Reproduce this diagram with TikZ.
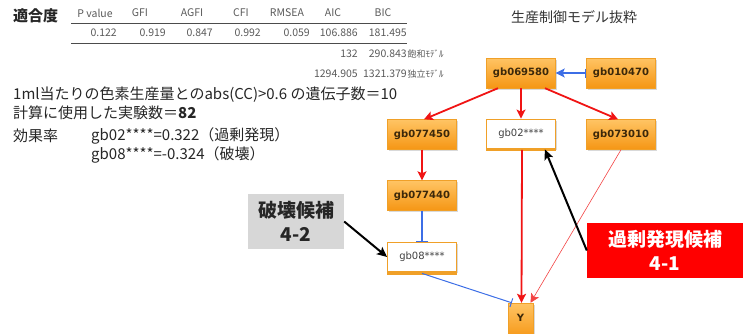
\documentclass[tikz,border=0pt]{standalone}
\usepackage{fontspec}
\setmainfont{Noto Sans CJK JP}
\newfontfamily\dejavu{DejaVu Sans}
\usetikzlibrary{arrows.meta,shadows}
\definecolor{orgtop}{RGB}{255,196,100}
\definecolor{orgbot}{RGB}{245,150,20}
\definecolor{orgline}{RGB}{240,160,40}
\definecolor{nodetxt}{RGB}{60,40,10}
\definecolor{bluearr}{RGB}{60,110,230}
\definecolor{redarr}{RGB}{240,20,20}
\definecolor{tabtxt}{RGB}{90,90,90}
\definecolor{boxgray}{RGB}{215,215,215}
\tikzset{
  gene/.style={rectangle, minimum width=69pt, minimum height=30pt, inner sep=0pt,
    top color=orgtop, bottom color=orgbot, draw=orgline, line width=0.4pt,
    drop shadow={shadow xshift=1.5pt, shadow yshift=-1.5pt, opacity=0.3},
    text=nodetxt, font=\dejavu\bfseries\fontsize{10}{12}\selectfont},
  wgene/.style={rectangle, minimum width=69pt, minimum height=29pt, inner sep=0pt,
    fill=white, draw=orgline, line width=0.8pt,
    drop shadow={shadow xshift=1.5pt, shadow yshift=-1.5pt, opacity=0.3},
    text=black!75, font=\dejavu\fontsize{10}{12}\selectfont},
  redx/.style={draw=redarr, line width=1.8pt, -{Stealth[length=9pt,width=9pt,inset=2pt]}},
  redthin/.style={draw=redarr!80, line width=0.6pt, -{Stealth[length=9pt,width=9pt,inset=2pt]}},
  bluex/.style={draw=bluearr, line width=1.5pt},
  blackx/.style={draw=black, line width=2pt, -{Stealth[length=10pt,width=9pt,inset=2pt]}},
  hdr/.style={text=tabtxt, font=\fontsize{10.5}{12}\selectfont, inner sep=0pt},
  num/.style={text=tabtxt, font=\fontsize{10.5}{12}\selectfont, inner sep=0pt, anchor=east},
  small/.style={text=tabtxt, font=\fontsize{9}{10}\selectfont, inner sep=0pt, anchor=west},
  body/.style={font=\fontsize{15}{17}\selectfont, inner sep=0pt, anchor=west, text=black!85},
  callout/.style={rectangle, inner sep=0pt, align=center, font=\bfseries\fontsize{19}{24}\selectfont}
}
\begin{document}
\begin{tikzpicture}[x=1pt,y=-1pt]
\useasboundingbox (0,0) rectangle (743,333);
\clip (0,0) rectangle (743,333);
% fit table
\node[anchor=west, inner sep=0pt, font=\bfseries\fontsize{15}{17}\selectfont, text=black!85] (tt) at (13,16) {適合度};
\node[hdr] (h1) at (95,13) {P value};
\node[hdr] (h2) at (140,13) {GFI};
\node[hdr] (h3) at (192,13) {AGFI};
\node[hdr] (h4) at (241,13) {CFI};
\node[hdr] (h5) at (287,13) {RMSEA};
\node[hdr] (h6) at (333,13) {AIC};
\node[hdr] (h7) at (383,13) {BIC};
\coordinate (l1a) at (71,23); \coordinate (l1b) at (407,23);
\coordinate (l2a) at (71,43); \coordinate (l2b) at (407,43);
\draw[black!70, line width=0.8pt] (l1a) -- (l1b);
\draw[black!70, line width=0.8pt] (l2a) -- (l2b);
\node[num] (d1) at (117,33) {0.122};
\node[num] (d2) at (166,33) {0.919};
\node[num] (d3) at (213,33) {0.847};
\node[num] (d4) at (261,33) {0.992};
\node[num] (d5) at (310,33) {0.059};
\node[num] (d6) at (358,33) {106.886};
\node[num] (d7) at (407,33) {181.495};
\node[num] (s1) at (358,54) {132};
\node[num] (s2) at (407,54) {290.843};
\node[small] (s3) at (407.5,54) {飽和ﾓﾃﾞﾙ};
\node[num] (i1) at (358,74) {1294.905};
\node[num] (i2) at (407,74) {1321.379};
\node[small] (i3) at (407.5,74) {独立ﾓﾃﾞﾙ};
% body text
\node[body] (t1) at (13,95) {1ml当たりの色素生産量とのabs(CC)>0.6 の遺伝子数＝10};
\node[body] (t2) at (13,113) {計算に使用した実験数＝\textbf{82}};
\node[body] (t3) at (13,136) {効果率};
\node[body] (t4) at (91,136) {gb02****=0.322（過剰発現）};
\node[body] (t5) at (91,155) {gb08****=-0.324（破壊）};
% title
\node[inner sep=0pt, font=\fontsize{14}{16}\selectfont, text=black!80] (title) at (574,17) {生産制御モデル抜粋};
% genes
\node[gene] (g069) at (521,73) {gb069580};
\node[gene] (g010) at (621,73) {gb010470};
\node[gene] (g450) at (422,134.5) {gb077450};
\node[wgene] (g02) at (521,133.5) {gb02****};
\node[gene] (g073) at (621,134.5) {gb073010};
\node[gene] (g440) at (422,195.5) {gb077440};
\node[wgene] (g08) at (422,257) {gb08****};
\node[gene, minimum width=25pt, minimum height=36pt, text depth=0pt] (Y) at (520.5,321) {\raisebox{6pt}{Y}};
\draw[orgline, line width=3pt] ([yshift=-1.5pt]g02.south west) -- ([yshift=-1.5pt]g02.south east);
\draw[orgline, line width=3pt] ([yshift=-1.5pt]g08.south west) -- ([yshift=-1.5pt]g08.south east);
% callouts
\node[callout, fill=boxgray, minimum width=96pt, minimum height=55pt, text=black!85] (c42) at (296,221.5) {破壊候補\\4-2};
\node[callout, fill=red, minimum width=156pt, minimum height=55pt, text=white] (c41) at (665,250.5) {過剰発現候補\\4-1};
% connectors
\draw[bluex, {Bar[width=9pt]}-{Stealth[length=9pt,width=9pt,inset=2pt]}] (g010.west) -- (g069.east);
\draw[redx] ([xshift=-23pt]g069.south) -- ([xshift=2pt]g450.north);
\draw[redx] (g069.south) -- (g02.north);
\draw[redx] ([xshift=24pt]g069.south) -- ([xshift=-3pt]g073.north);
\draw[redx] (g450.south) -- (g440.north);
\draw[bluex, -{Bar[width=12pt]}] (g440.south) -- (g08.north);
\draw[redx] ([yshift=-1.5pt,xshift=1pt]g02.south) -- ([xshift=1pt]Y.north);
\draw[redthin] (g073.south) -- ([xshift=10pt]Y.north);
\draw[draw=bluearr, line width=1pt, -{Bar[width=9pt]}] ([yshift=-1.5pt]g08.south) -- ([xshift=4pt]Y.north west);
\draw[blackx] (c41.west) -- ([xshift=-11pt,yshift=-1pt]g02.south east);
\draw[blackx] (c42.east) -- (g08.west);
\end{tikzpicture}
\end{document}
